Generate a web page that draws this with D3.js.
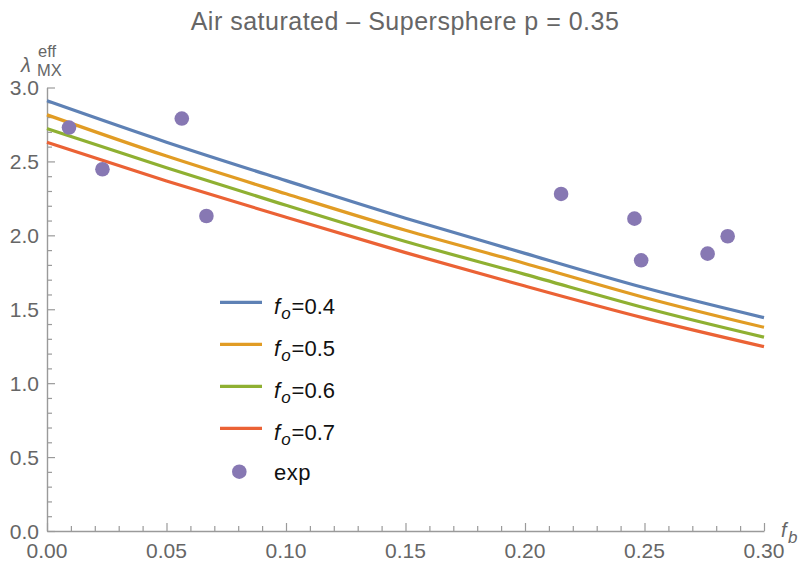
<!DOCTYPE html>
<html><head><meta charset="utf-8">
<script src="https://cdn.jsdelivr.net/npm/d3@7"></script>
<style>body{margin:0;background:#fff}svg{display:block}</style>
</head><body><svg id="c" width="801" height="567"></svg>
<script>
const xs = [0, 0.05, 0.10, 0.15, 0.20, 0.25, 0.30];
const fo04 = [2.91, 2.63, 2.37, 2.116, 1.878, 1.645, 1.443];
const fo05 = [2.815, 2.536, 2.281, 2.034, 1.81, 1.58, 1.378];
const fo06 = [2.722, 2.457, 2.203, 1.958, 1.736, 1.51, 1.311];
const fo07 = [2.63, 2.368, 2.122, 1.883, 1.657, 1.44, 1.247];
const seriesNames = ["0.4", "0.5", "0.6", "0.7"];
const seriesColors = ["#5E81B5", "#E19C24", "#8FB032", "#EB6235"];
const expX = [0.0092, 0.0232, 0.0564, 0.0667, 0.2151, 0.2458, 0.2486, 0.2764, 0.2848];
const expY = [2.729, 2.447, 2.79, 2.131, 2.28, 2.113, 1.831, 1.876, 1.994];
const xTicks = [0, 0.05, 0.10, 0.15, 0.20, 0.25, 0.30];
const yTicks = [0, 0.5, 1.0, 1.5, 2.0, 2.5, 3.0];
const title = "Air saturated – Supersphere p = 0.35";

const FF = "Liberation Sans, Arial, sans-serif";
const svg = d3.select("#c");
const x = d3.scaleLinear().domain([0, 0.3]).range([47, 764]);
const y = d3.scaleLinear().domain([0, 3]).range([531, 87.5]);
const axisCol = "#9a9a9a", labCol = "#666";

// title
svg.append("text").attr("x", 405).attr("y", 30).attr("text-anchor", "middle")
  .attr("font-family", FF).attr("font-size", 25).attr("letter-spacing", 0.5)
  .attr("fill", labCol).text(title);

// axes
const gx = svg.append("g").attr("transform", `translate(0,${y(0)})`);
gx.call(d3.axisBottom(x).tickValues(d3.range(0, 31).map(i => i / 100)).tickSize(0).tickFormat(""));
gx.select(".domain").attr("stroke", axisCol).attr("stroke-width", 1.4);
gx.selectAll(".tick line").remove();
gx.selectAll(".tick").append("line").attr("y1", 0)
  .attr("y2", d => (Math.round(d * 100) % 5 === 0) ? -8 : -5)
  .attr("stroke", axisCol).attr("stroke-width", 1.2);
svg.append("g").selectAll("text").data(xTicks).join("text")
  .attr("x", d => x(d)).attr("y", 558).attr("text-anchor", "middle")
  .attr("font-family", FF).attr("font-size", 21)
  .attr("fill", labCol).text(d => d3.format(".2f")(d));

const gy = svg.append("g").attr("transform", `translate(${x(0)},0)`);
gy.call(d3.axisLeft(y).tickValues(d3.range(0, 31).map(i => i / 10)).tickSize(0).tickFormat(""));
gy.select(".domain").attr("stroke", axisCol).attr("stroke-width", 1.4);
gy.selectAll(".tick line").remove();
gy.selectAll(".tick").append("line").attr("x1", 0)
  .attr("x2", d => (Math.round(d * 10) % 5 === 0) ? 8 : 5)
  .attr("stroke", axisCol).attr("stroke-width", 1.2);
svg.append("g").selectAll("text").data(yTicks).join("text")
  .attr("x", 39).attr("y", d => y(d)).attr("dy", "0.38em").attr("text-anchor", "end")
  .attr("font-family", FF).attr("font-size", 21)
  .attr("fill", labCol).text(d => d3.format(".1f")(d));

// axis labels
svg.append("text").attr("x", 21).attr("y", 72).attr("font-size", 20).attr("font-style", "italic")
  .attr("font-family", FF).attr("fill", labCol).text("λ");
svg.append("text").attr("x", 38).attr("y", 57).attr("font-size", 16.5)
  .attr("font-family", FF).attr("fill", labCol).text("eff");
svg.append("text").attr("x", 37).attr("y", 76).attr("font-size", 16.5)
  .attr("font-family", FF).attr("fill", labCol).text("MX");
svg.append("text").attr("x", 781).attr("y", 537).attr("font-size", 20).attr("font-style", "italic")
  .attr("font-family", FF).attr("fill", labCol).text("f");
svg.append("text").attr("x", 788).attr("y", 543).attr("font-size", 17).attr("font-style", "italic")
  .attr("font-family", FF).attr("fill", labCol).text("b");

// lines
const allSeries = [fo04, fo05, fo06, fo07];
const line = d3.line().x((d, i) => x(xs[i])).y(d => y(d)).curve(d3.curveNatural);
allSeries.forEach((s, k) => {
  svg.append("path").datum(s).attr("d", line).attr("fill", "none")
    .attr("stroke", seriesColors[k]).attr("stroke-width", 3.2);
});

// points
svg.append("g").selectAll("circle").data(expX).join("circle")
  .attr("cx", d => x(d)).attr("cy", (d, i) => y(expY[i])).attr("r", 7.3).attr("fill", "#8778B3");

// legend
const lg = svg.append("g");
seriesNames.forEach((n, k) => {
  const yy = 302.3 + k * 42;
  lg.append("line").attr("x1", 220).attr("x2", 262).attr("y1", yy).attr("y2", yy)
    .attr("stroke", seriesColors[k]).attr("stroke-width", 3.2);
  const t = lg.append("text").attr("x", 274).attr("y", yy + 12)
    .attr("font-family", FF).attr("font-size", 22).attr("fill", "#111");
  t.append("tspan").attr("font-style", "italic").text("f");
  t.append("tspan").attr("font-style", "italic").attr("font-size", 17).attr("dy", 5).attr("dx", 1).text("o");
  t.append("tspan").attr("dy", -5).attr("dx", 1).text("=" + n);
});
lg.append("circle").attr("cx", 239.3).attr("cy", 471.7).attr("r", 7.3).attr("fill", "#8778B3");
lg.append("text").attr("x", 274).attr("y", 480).attr("font-family", FF)
  .attr("font-size", 22).attr("letter-spacing", 0.5).attr("fill", "#111").text("exp");
</script></body></html>
